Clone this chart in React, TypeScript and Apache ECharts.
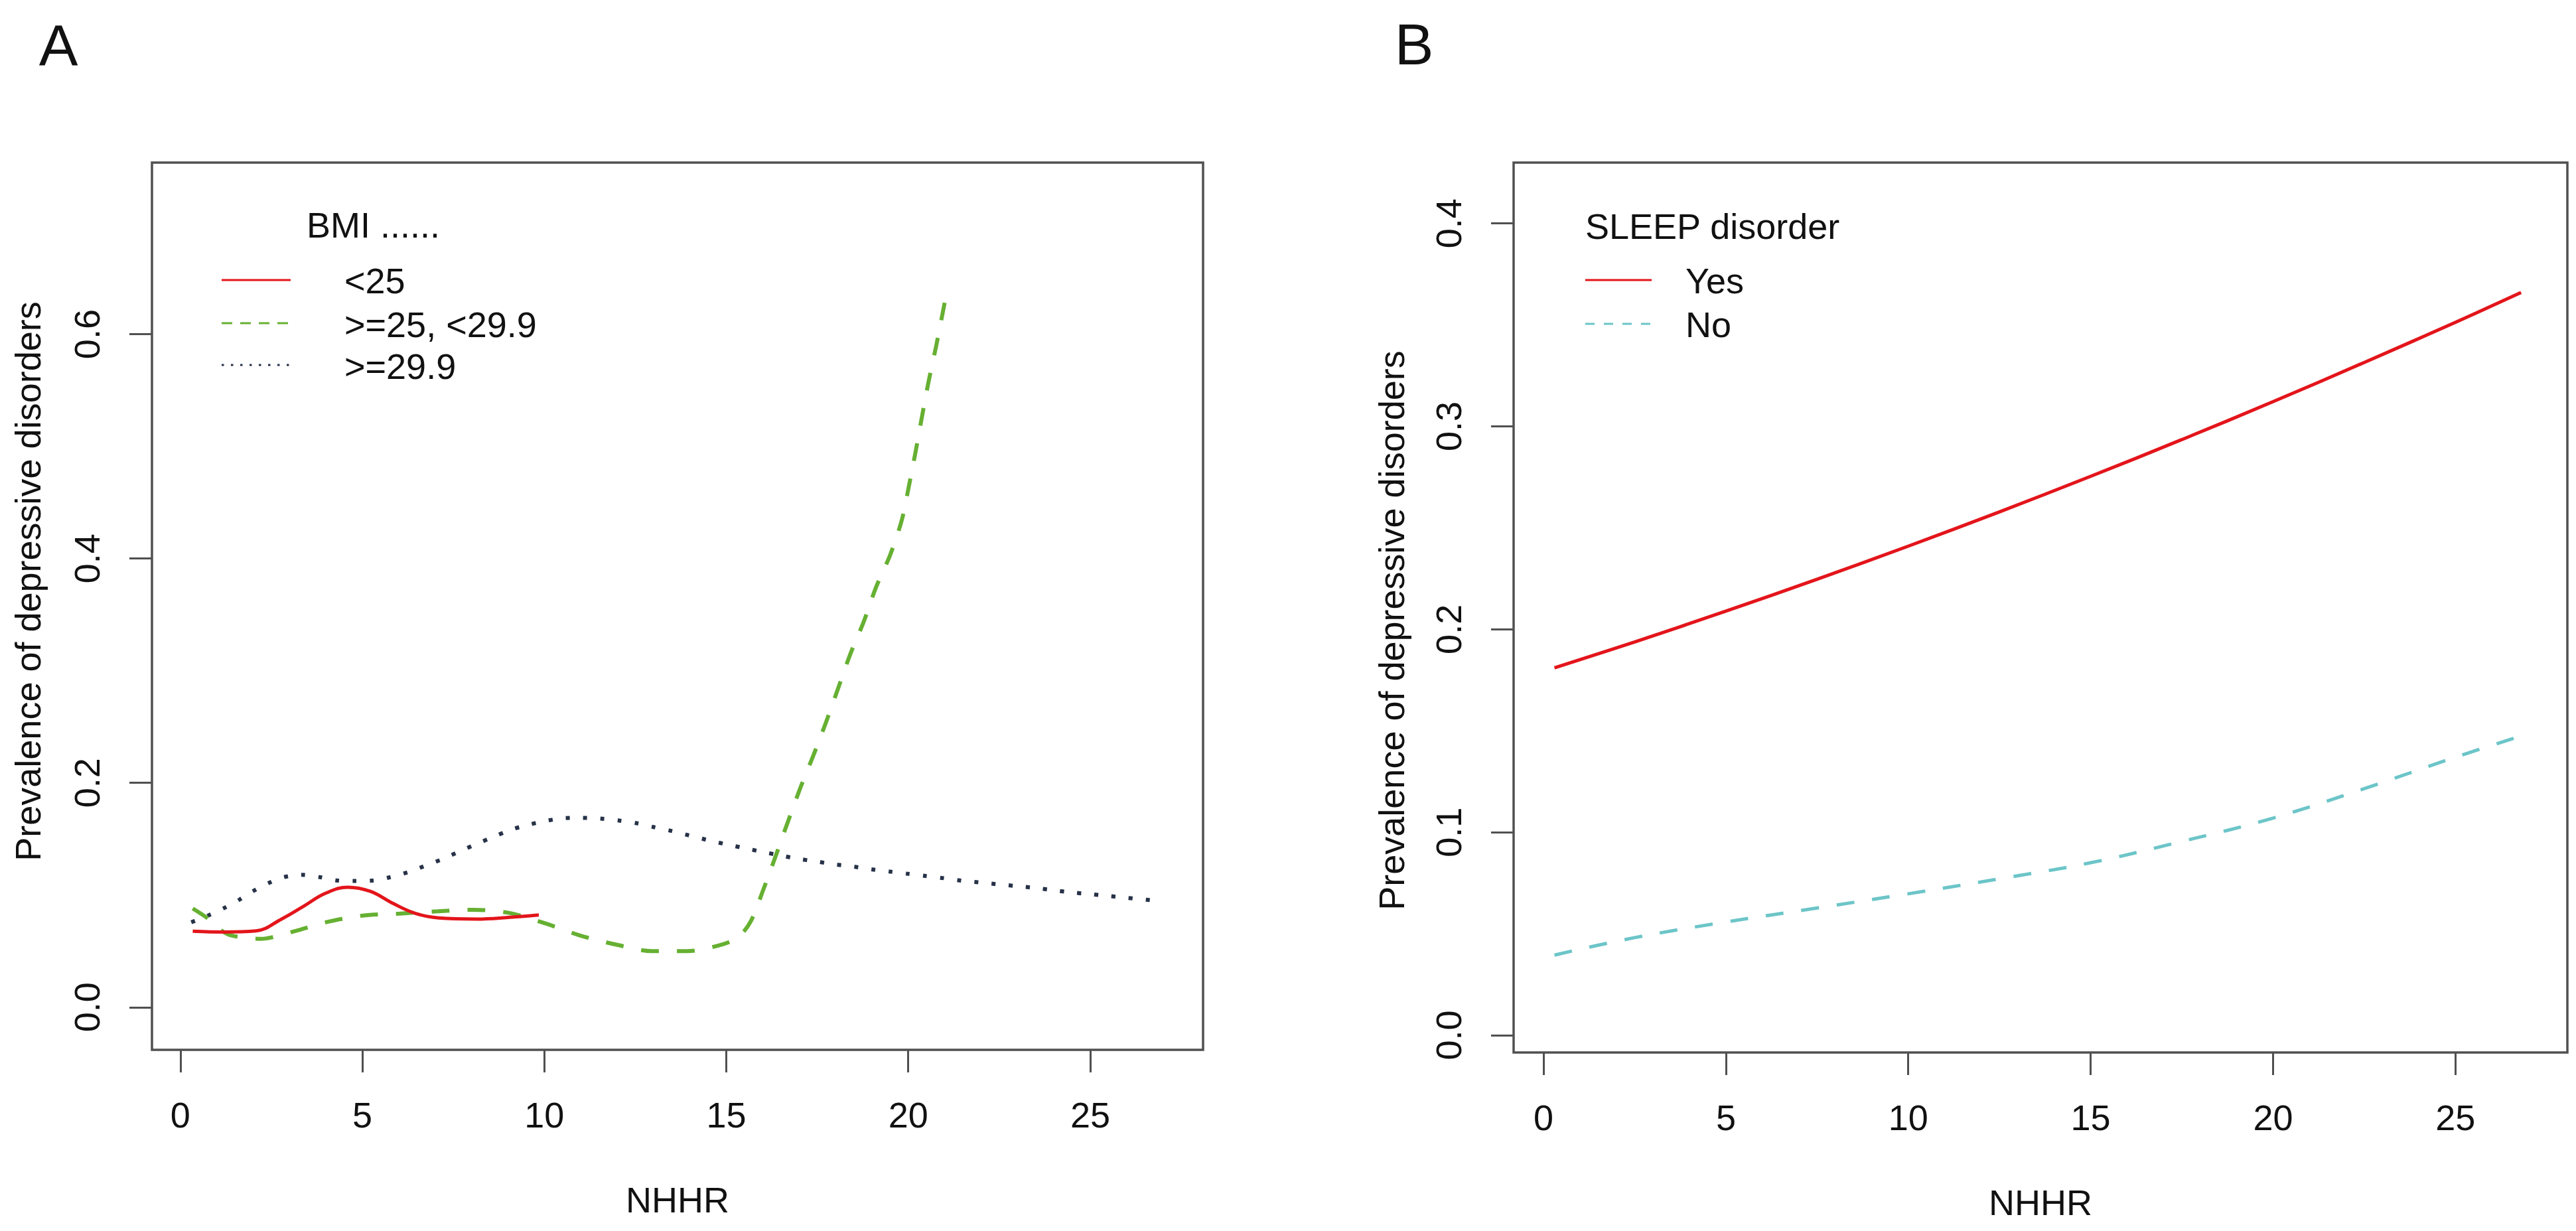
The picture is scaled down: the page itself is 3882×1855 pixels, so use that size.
import React, { useEffect, useRef } from "react";
import * as echarts from "echarts";

const FONT = '"Liberation Sans", Arial, Helvetica, sans-serif';
const RED = "#E3151B";
const GREEN = "#66B032";
const DOT = "#263248";
const CYAN = "#6CC5C8";
const BOX = "#505050";
const TXT = "#111111";

// Panel A: BMI groups
const bmiLowX = [0.34, 1.2, 2.08, 2.78, 3.41, 3.97, 4.6, 5.22, 5.85, 6.47, 7.1, 8.15, 9.0, 9.85];
const bmiLowY = [0.0677, 0.067, 0.068, 0.0786, 0.0905, 0.1013, 0.107, 0.1033, 0.0924, 0.0835, 0.0796, 0.0786, 0.08, 0.0822];

const bmiMidX = [0.34, 0.76, 1.1, 1.4, 2.2, 3.13, 4.07, 5.01, 6.03, 7.07, 8.05, 9.03, 10.04, 10.96, 11.96, 12.96, 13.93, 14.94, 15.35, 15.68, 16.02, 16.36, 16.7, 17.04, 17.4, 17.74, 18.07, 18.41, 18.78, 19.11, 19.5, 19.82, 20.02, 20.2, 20.38, 20.56, 20.77, 21.0];
const bmiMidY = [0.088, 0.079, 0.069, 0.064, 0.061, 0.0677, 0.0763, 0.0817, 0.0835, 0.0855, 0.0869, 0.0841, 0.0746, 0.0642, 0.0559, 0.05, 0.05, 0.0565, 0.063, 0.077, 0.105, 0.135, 0.166, 0.196, 0.225, 0.254, 0.284, 0.315, 0.344, 0.374, 0.403, 0.434, 0.465, 0.495, 0.527, 0.558, 0.59, 0.628];

const bmiHighX = [0.3, 0.76, 1.21, 1.63, 2.01, 2.42, 2.85, 3.34, 3.83, 4.3, 4.8, 5.3, 5.78, 6.27, 6.72, 7.2, 7.65, 8.12, 8.59, 9.06, 9.54, 10.03, 10.52, 11.01, 11.52, 12.03, 12.54, 13.02, 13.51, 14.0, 14.49, 14.99, 15.48, 15.97, 16.46, 16.97, 17.46, 17.96, 18.47, 18.97, 19.47, 19.97, 20.48, 20.98, 21.48, 21.97, 22.46, 22.97, 23.47, 23.96, 24.45, 24.96, 25.46, 25.95, 26.45, 26.97];
const bmiHighY = [0.0757, 0.0817, 0.0885, 0.096, 0.1037, 0.1106, 0.116, 0.118, 0.116, 0.113, 0.1125, 0.113, 0.116, 0.1205, 0.126, 0.132, 0.1386, 0.1453, 0.1517, 0.158, 0.1625, 0.166, 0.1685, 0.1688, 0.1682, 0.1665, 0.164, 0.1605, 0.157, 0.153, 0.149, 0.1453, 0.142, 0.1386, 0.1355, 0.1323, 0.13, 0.1274, 0.1255, 0.123, 0.121, 0.119, 0.117, 0.115, 0.1128, 0.1112, 0.1096, 0.108, 0.1064, 0.1044, 0.1025, 0.1009, 0.0993, 0.0977, 0.0961, 0.0945];

// Panel B: sleep disorder
const sleepYesX = [0.3, 2.5, 5, 7.5, 10, 12.5, 15, 17.5, 20, 22.5, 25, 26.8];
const sleepYesY = [0.181, 0.1938, 0.209, 0.2247, 0.241, 0.2579, 0.2754, 0.2935, 0.3122, 0.3315, 0.3513, 0.366];
const sleepNoX = [0.3, 2.5, 5, 7.5, 10, 12.5, 15, 17.5, 20, 22.5, 25, 26.9];
const sleepNoY = [0.0395, 0.0481, 0.0558, 0.0627, 0.0697, 0.0771, 0.085, 0.0955, 0.107, 0.1215, 0.137, 0.148];

// Tick values / labels
const xTicks = [0, 5, 10, 15, 20, 25];
const yTicksA = [0, 0.2, 0.4, 0.6];
const yTicksB = [0, 0.1, 0.2, 0.3, 0.4];
const xTitle = "NHHR";
const yTitle = "Prevalence of depressive disorders";
const bmiLegendTitle = "BMI ......";
const bmiLabels = ["<25", ">=25, <29.9", ">=29.9"];
const sleepLegendTitle = "SLEEP disorder";
const sleepLabels = ["Yes", "No"];

const zip = (xs: number[], ys: number[]) => xs.map((x, i) => [x, ys[i]]);

function xAxisCfg(gridIndex: number, min: number, max: number) {
  return {
    type: "value",
    gridIndex,
    min,
    max,
    position: "bottom",
    axisLine: { show: false, onZero: false },
    splitLine: { show: false },
    axisTick: {
      show: true,
      inside: false,
      length: 34,
      customValues: xTicks,
      lineStyle: { color: BOX, width: 3 },
    },
    axisLabel: {
      show: true,
      customValues: xTicks,
      margin: 71,
      fontSize: 54,
      lineHeight: 54,
      fontFamily: FONT,
      color: TXT,
      formatter: (v: number) => String(v),
    },
    name: xTitle,
    nameLocation: "middle",
    nameGap: 199,
    nameTextStyle: { fontSize: 54, lineHeight: 54, fontFamily: FONT, color: TXT },
  };
}

function yAxisCfg(gridIndex: number, min: number, max: number, ticks: number[]) {
  return {
    type: "value",
    gridIndex,
    min,
    max,
    position: "left",
    axisLine: { show: false, onZero: false },
    splitLine: { show: false },
    axisTick: {
      show: true,
      inside: false,
      length: 34,
      customValues: ticks,
      lineStyle: { color: BOX, width: 3 },
    },
    axisLabel: {
      show: true,
      customValues: ticks,
      rotate: 90,
      margin: 71,
      fontSize: 54,
      lineHeight: 54,
      fontFamily: FONT,
      color: TXT,
      formatter: (v: number) => v.toFixed(1),
    },
  };
}

function textEl(text: string, x: number, y: number, extra: any = {}) {
  return {
    type: "text",
    x,
    y,
    silent: true,
    ...extra,
    style: {
      text,
      fill: TXT,
      fontSize: 54,
      fontFamily: FONT,
      align: "left",
      verticalAlign: "middle",
      ...(extra.style || {}),
    },
  };
}

function lineEl(x1: number, x2: number, y: number, color: string, dash?: number[]) {
  return {
    type: "line",
    silent: true,
    shape: { x1, y1: y, x2, y2: y },
    style: { stroke: color, lineWidth: 3, lineDash: dash, lineCap: "butt" },
  };
}

export default function App() {
  const ref = useRef<HTMLDivElement>(null);

  useEffect(() => {
    if (!ref.current) return;
    const chart = echarts.init(ref.current, undefined, { renderer: "svg" });
    const option: any = {
      animation: false,
      backgroundColor: "#ffffff",
      grid: [
        { left: 229, top: 245, width: 1584, height: 1337, show: true, borderColor: BOX, borderWidth: 3.5, backgroundColor: "transparent", containLabel: false },
        { left: 2281, top: 245, width: 1588, height: 1341, show: true, borderColor: BOX, borderWidth: 3.5, backgroundColor: "transparent", containLabel: false },
      ],
      xAxis: [xAxisCfg(0, -0.78, 28.1), xAxisCfg(1, -0.82, 28.07)],
      yAxis: [yAxisCfg(0, -0.038, 0.753, yTicksA), yAxisCfg(1, -0.0085, 0.43, yTicksB)],
      series: [
        {
          name: bmiLabels[2], type: "line", xAxisIndex: 0, yAxisIndex: 0,
          data: zip(bmiHighX, bmiHighY), showSymbol: false, smooth: 0.3,
          lineStyle: { color: DOT, width: 6, type: [6, 20], cap: "butt" },
        },
        {
          name: bmiLabels[1], type: "line", xAxisIndex: 0, yAxisIndex: 0,
          data: zip(bmiMidX, bmiMidY), showSymbol: false, smooth: 0.3,
          lineStyle: { color: GREEN, width: 6, type: [27, 27], cap: "butt" },
        },
        {
          name: bmiLabels[0], type: "line", xAxisIndex: 0, yAxisIndex: 0,
          data: zip(bmiLowX, bmiLowY), showSymbol: false, smooth: 0.4,
          lineStyle: { color: RED, width: 5 },
        },
        {
          name: sleepLabels[0], type: "line", xAxisIndex: 1, yAxisIndex: 1,
          data: zip(sleepYesX, sleepYesY), showSymbol: false, smooth: 0.4,
          lineStyle: { color: RED, width: 5 },
        },
        {
          name: sleepLabels[1], type: "line", xAxisIndex: 1, yAxisIndex: 1,
          data: zip(sleepNoX, sleepNoY), showSymbol: false, smooth: 0.4,
          lineStyle: { color: CYAN, width: 5, type: [27, 27], cap: "butt" },
        },
      ],
      graphic: {
        elements: [
          textEl("A", 88, 68, { style: { fontSize: 88, align: "center" } }),
          textEl("B", 2131, 66, { style: { fontSize: 88, align: "center" } }),
          textEl(yTitle, 42, 876, { rotation: Math.PI / 2, style: { align: "center" } }),
          textEl(yTitle, 2097, 950, { rotation: Math.PI / 2, style: { align: "center" } }),
          textEl(bmiLegendTitle, 462, 339),
          lineEl(334, 438, 422, RED),
          textEl(bmiLabels[0], 519, 423),
          lineEl(334, 438, 487, GREEN, [16, 12]),
          textEl(bmiLabels[1], 519, 489),
          lineEl(334, 438, 550, DOT, [3.5, 10.5]),
          textEl(bmiLabels[2], 519, 552),
          textEl(sleepLegendTitle, 2389, 341),
          lineEl(2389, 2489, 422, RED),
          textEl(sleepLabels[0], 2540, 423),
          lineEl(2389, 2489, 488, CYAN, [14, 14]),
          textEl(sleepLabels[1], 2540, 489),
        ],
      },
    };
    chart.setOption(option);
    return () => chart.dispose();
  }, []);

  return (
    <div
      ref={ref}
      style={{ position: "fixed", left: 0, top: 0, width: 3882, height: 1855, background: "#fff" }}
    />
  );
}
